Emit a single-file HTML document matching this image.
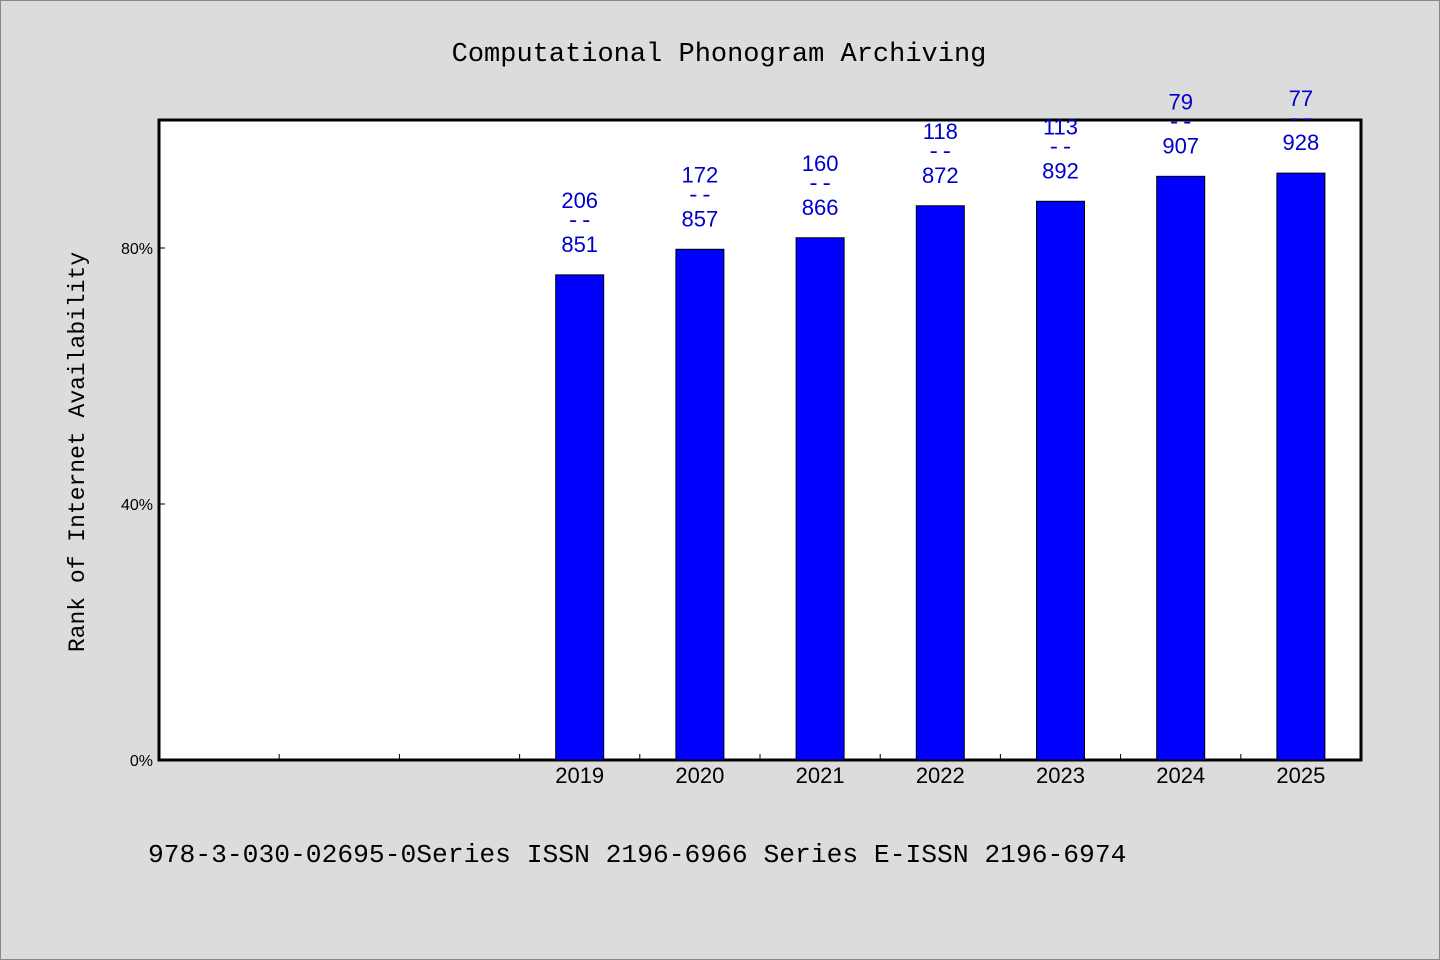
<!DOCTYPE html>
<html><head><meta charset="utf-8"><style>
html,body{margin:0;padding:0;background:#dcdcdc;}
svg{display:block;font-family:"Liberation Sans",sans-serif;}
.mono{font-family:"Liberation Mono",monospace;}
</style></head><body>
<svg id="chart" width="1440" height="960" viewBox="0 0 1440 960">
<rect x="0.5" y="0.5" width="1439" height="959" fill="#dcdcdc" stroke="#888"/>
<text class="mono" x="719" y="61" font-size="27" text-anchor="middle" fill="#000">Computational Phonogram Archiving</text>
<rect x="159" y="120" width="1202" height="640" fill="#fff" stroke="#000" stroke-width="3"/>
<g id="bars"></g><g id="labels"></g><g id="xticks"></g><g id="yticks"></g>
<text class="mono" transform="translate(84,452) rotate(-90)" font-size="23" text-anchor="middle" fill="#000">Rank of Internet Availability</text>
<text class="mono" x="148" y="862" font-size="26.3" fill="#000">978-3-030-02695-0Series ISSN 2196-6966 Series E-ISSN 2196-6974</text>
</svg>
<script>
const categories=["","","","2019","2020","2021","2022","2023","2024","2025"];
const values=[null,null,null,75.8,79.8,81.6,86.6,87.3,91.2,91.7];
const topLabels=["","","","206","172","160","118","113","79","77"];
const bottomLabels=["","","","851","857","866","872","892","907","928"];
const yTicks=[0,40,80];
const ns="http://www.w3.org/2000/svg";
const X0=159,X1=1361,Y0=760,Y1=120;
const slot=(X1-X0)/categories.length;
const xc=i=>X0+slot*(i+0.5);
const y=v=>Y0-(v/100)*(Y0-Y1);
function mk(tag,attrs,parent,txt){const e=document.createElementNS(ns,tag);for(const k in attrs)e.setAttribute(k,attrs[k]);if(txt!==undefined)e.textContent=txt;document.getElementById(parent).appendChild(e);return e;}
categories.forEach((c,i)=>{
  if(i>0){const t=mk('line',{x1:X0+slot*i,x2:X0+slot*i,y1:Y0,y2:Y0-6,stroke:'#000','stroke-width':1},'xticks');
    
    }
  if(c){const l=mk('text',{x:xc(i),y:783,'font-size':22,'text-anchor':'middle',fill:'#000'},'xticks',c);
    
    }
  if(values[i]!=null){
    const b=mk('rect',{x:xc(i)-24,y:y(values[i]),width:48,height:Y0-y(values[i]),fill:'#0000ff',stroke:'#000','stroke-width':1},'bars');
    
    
    const by=y(values[i]);
    const a=mk('text',{x:xc(i),y:by-67,'font-size':22,'text-anchor':'middle',fill:'#0000cc'},'labels',topLabels[i]);
    
    
    const d=mk('text',{x:xc(i),y:by-48,'font-size':22,'text-anchor':'middle',fill:'#0000cc','class':'mono'},'labels','--');
    
    
    const e=mk('text',{x:xc(i),y:by-23,'font-size':22,'text-anchor':'middle',fill:'#0000cc'},'labels',bottomLabels[i]);
    
    
  }
});
yTicks.forEach(v=>{
  const t=mk('line',{x1:X0,x2:X0+6,y1:y(v),y2:y(v),stroke:'#000','stroke-width':1},'yticks');
  
  
  const l=mk('text',{x:X0-6,y:y(v)+6,'font-size':16,'text-anchor':'end',fill:'#000'},'yticks',v+'%');
  
  
});
</script>
</body></html>
